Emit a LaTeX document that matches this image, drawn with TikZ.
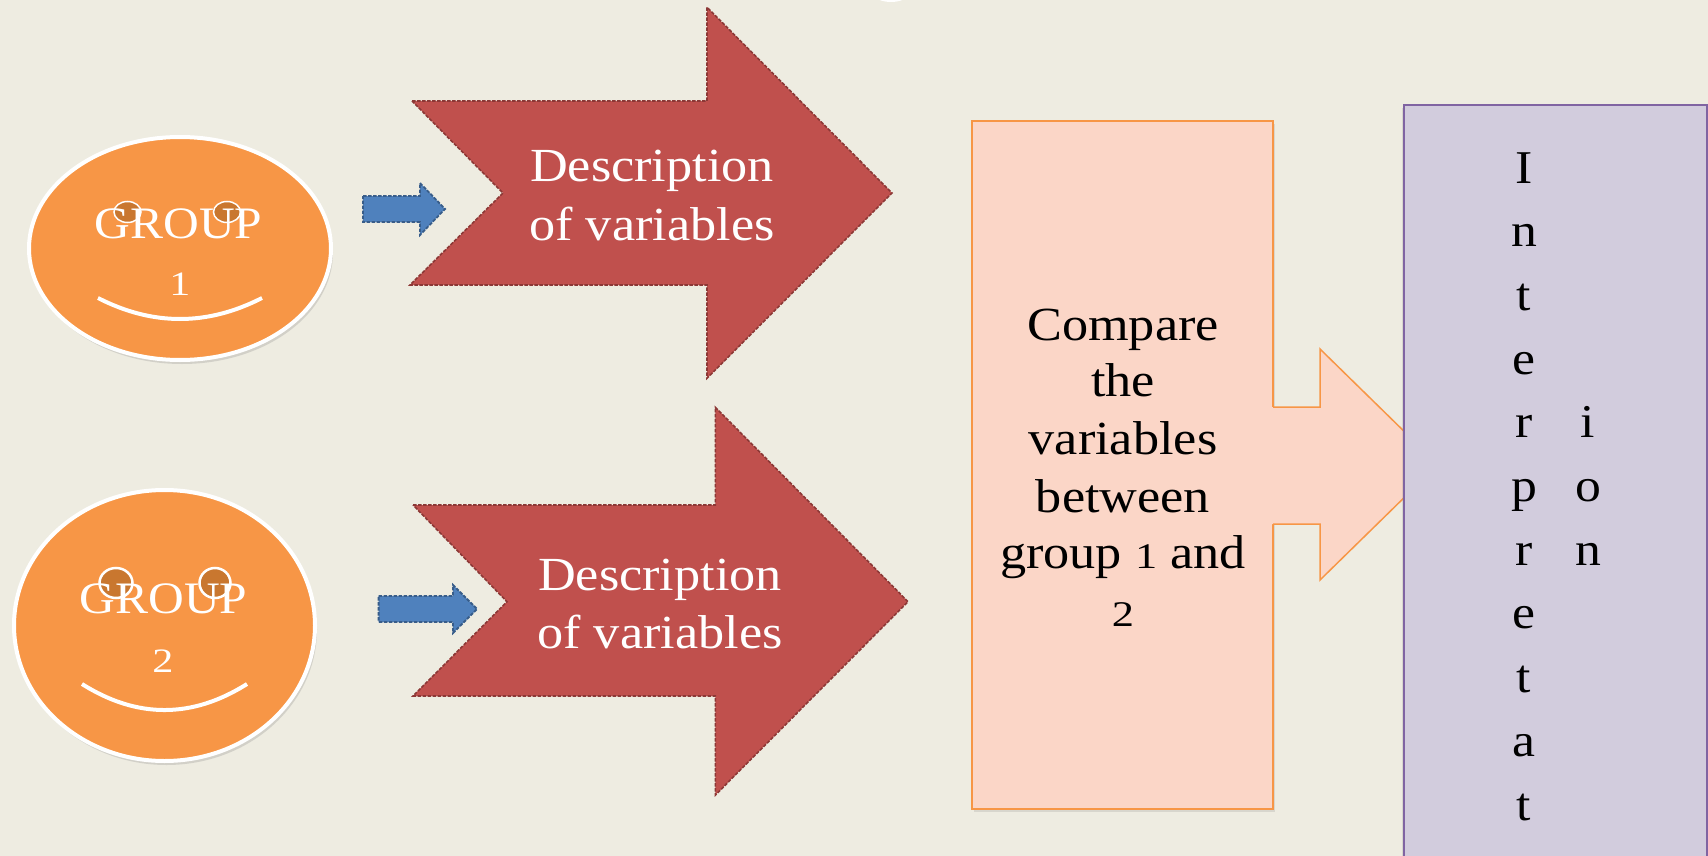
\documentclass[tikz,border=0pt]{standalone}
\usepackage{fontspec}
\setmainfont{Liberation Serif}[FakeStretch=1.1]
\usetikzlibrary{shapes.geometric,shadows}
\definecolor{bgc}{HTML}{EEECE1}
\definecolor{orangef}{HTML}{F79646}
\definecolor{eyef}{HTML}{C9772F}
\definecolor{redf}{HTML}{C0504D}
\definecolor{redd}{HTML}{8C3836}
\definecolor{bluef}{HTML}{4F81BD}
\definecolor{blued}{HTML}{385D8A}
\definecolor{peachf}{HTML}{FBD6C7}
\definecolor{purplef}{HTML}{D2CCDD}
\definecolor{purpled}{HTML}{8064A2}
\newcommand\osnum[1]{\scalebox{0.85}[0.76]{#1}}
\begin{document}
\begin{tikzpicture}[x=1pt,y=-1pt,
  face/.style={ellipse, fill=orangef, draw=white, line width=4pt, inner sep=0pt,
    drop shadow={shadow xshift=2pt, shadow yshift=-4pt, opacity=0.25}},
  eyeball/.style={ellipse, fill=eyef, draw=white, inner sep=0pt},
  smile/.style={draw=white, line width=4pt},
  gtext/.style={text=white, font=\fontsize{45}{57}\selectfont, inner sep=0pt, anchor=base},
  wtext/.style={text=white, font=\fontsize{47.5}{57}\selectfont, inner sep=0pt, anchor=base},
  btext/.style={text=black, font=\fontsize{47.5}{57}\selectfont, inner sep=0pt, anchor=base},
  ltext/.style={text=black, font=\fontsize{47}{57}\selectfont, inner sep=0pt, anchor=base},
  redarrow/.style={fill=redf, draw=redd, line width=1.6pt, dash pattern=on 3.5pt off 1.5pt},
  bluearrow/.style={fill=bluef, draw=blued, line width=1.8pt, dash pattern=on 3.5pt off 1.5pt},
  cmpbox/.style={rectangle, fill=peachf, draw=orangef, line width=1.5pt, inner sep=0pt,
    drop shadow={shadow xshift=2pt, shadow yshift=-3pt, opacity=0.2}},
  purplebox/.style={fill=purplef, draw=purpled, line width=1.5pt,
    drop shadow={shadow xshift=-2pt, shadow yshift=-3pt, opacity=0.2}}
]
\useasboundingbox (0,0) rectangle (1708,856);
\fill[bgc] (0,0) rectangle (1708,856);

% small white shape at top
\fill[white] (891,-25) ellipse [x radius=30, y radius=27];

% group 1 face
\node[face, minimum width=302pt, minimum height=223pt] (g1) at (180,248.5) {};
\node[eyeball, line width=1.5pt, minimum width=27pt, minimum height=21pt] (g1e1) at (127.5,212) {};
\node[eyeball, line width=1.5pt, minimum width=27pt, minimum height=21pt] (g1e2) at (227,212) {};
\draw[smile] (98,298) .. controls (152.7,326) and (207.3,326) .. (262,298);
\node[gtext] (g1t) at (178.5,238) {GROUP};
\node[gtext] (g1n) at (180,295) {\osnum{1}};

% group 2 face
\node[face, minimum width=301pt, minimum height=271pt] (g2) at (164.5,625.5) {};
\node[eyeball, line width=2.5pt, minimum width=33pt, minimum height=30pt] (g2e1) at (116,583) {};
\node[eyeball, line width=2.5pt, minimum width=31pt, minimum height=30pt] (g2e2) at (215,583) {};
\draw[smile] (82,684) .. controls (137,718.7) and (192,718.7) .. (247,684);
\node[gtext] (g2t) at (163.5,613) {GROUP};
\node[gtext] (g2n) at (163,672) {\osnum{2}};

% blue arrows
\draw[bluearrow] (363,196) -- (420,196) -- (420,183) -- (445,209) -- (420,235) -- (420,222) -- (363,222) -- cycle;
\draw[bluearrow] (378.6,596) -- (453,596) -- (453,585) -- (477,609) -- (453,633) -- (453,622) -- (378.6,622) -- cycle;

% red arrows
\draw[redarrow] (412,101) -- (707,101) -- (707,7.3) -- (892,193) -- (707,378.3) -- (707,285) -- (410,285) -- (503,193) -- cycle;
\node[wtext] (d1a) at (652,182) {Description};
\node[wtext] (d1b) at (652,240) {of variables};

\draw[redarrow] (413,505) -- (715.4,505) -- (715.4,407.3) -- (908,601.7) -- (715.4,795) -- (715.4,696) -- (413,696) -- (507,601.7) -- cycle;
\node[wtext] (d2a) at (660,590) {Description};
\node[wtext] (d2b) at (660,648) {of variables};

% compare box
\node[cmpbox, minimum width=301pt, minimum height=688pt] (cmp) at (1122.5,465) {};
\fill[peachf] (1268,407) -- (1320,407) -- (1320,349) -- (1438,464.5) -- (1320,580) -- (1320,524) -- (1268,524) -- cycle;
\draw[orangef, line width=1.5pt] (1273,407) -- (1320,407) -- (1320,349) -- (1438,464.5) -- (1320,580) -- (1320,524) -- (1273,524);
\node[btext] (c1) at (1123,340) {Compare};
\node[btext] (c2) at (1123,396) {the};
\node[btext] (c3) at (1123,454) {variables};
\node[btext] (c4) at (1123,512) {between};
\node[btext] (c5) at (1123,568) {group \osnum{1} and};
\node[btext] (c6) at (1123,626) {\osnum{2}};

% interpretation box
\draw[purplebox] (1404,105) rectangle (1707,880);
\foreach \ch [count=\k from 0] in {I,n,t,e,r,p,r,e,t,a,t}
  \node[ltext] (ia\k) at (1524,183+63.7*\k) {\ch};
\foreach \ch [count=\k from 4] in {i,o,n}
  \node[ltext] (ib\k) at (1588,183+63.7*\k) {\ch};
\end{tikzpicture}
\end{document}
